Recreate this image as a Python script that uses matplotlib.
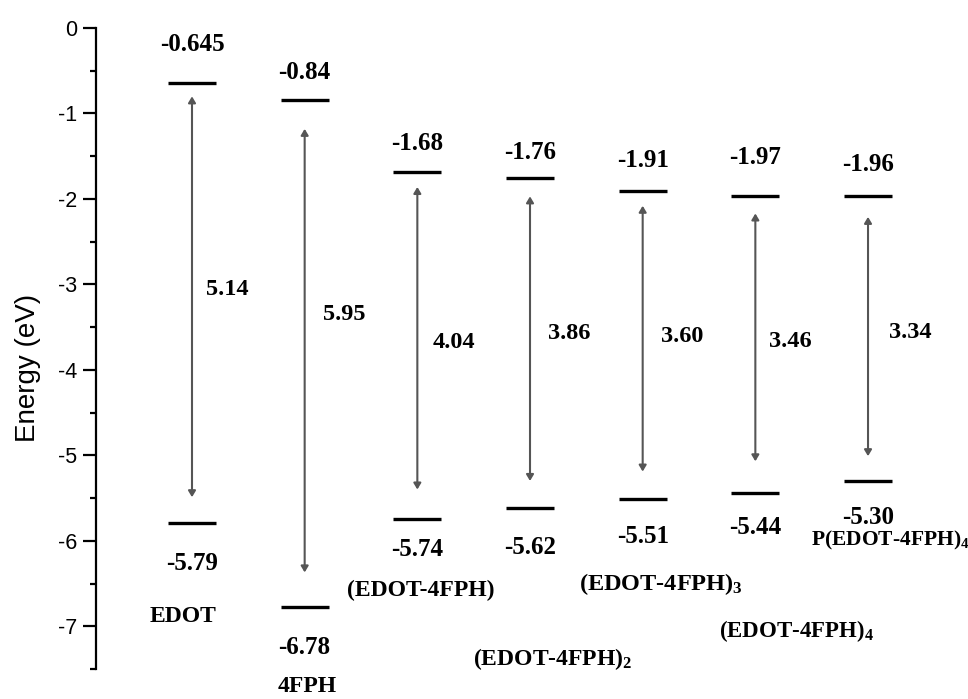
import matplotlib
matplotlib.use("Agg")
import matplotlib.pyplot as plt

# ---- data ----
names = ["EDOT", "4FPH", "(EDOT-4FPH)", "(EDOT-4FPH)$_\\mathbf{2}$",
         "(EDOT-4FPH)$_\\mathbf{3}$", "(EDOT-4FPH)$_\\mathbf{4}$",
         "P(EDOT-4FPH)$_\\mathbf{4}$"]
lumo = [-0.645, -0.84, -1.68, -1.76, -1.91, -1.97, -1.96]
lumo_text = ["-0.645", "-0.84", "-1.68", "-1.76", "-1.91", "-1.97", "-1.96"]
homo = [-5.79, -6.78, -5.74, -5.62, -5.51, -5.44, -5.30]
homo_text = ["-5.79", "-6.78", "-5.74", "-5.62", "-5.51", "-5.44", "-5.30"]
gaps = ["5.14", "5.95", "4.04", "3.86", "3.60", "3.46", "3.34"]
arrow_top = [-0.80, -1.18, -1.86, -1.97, -2.08, -2.17, -2.21]
arrow_bottom = [-5.49, -6.37, -5.40, -5.30, -5.19, -5.07, -5.01]
yticks = [0, -1, -2, -3, -4, -5, -6, -7]

# ---- layout (not data) ----
xpos = list(range(1, len(names) + 1))
top_off = [28, 20, 20, 19, 22, 28, 22]        # points above LUMO line
bot_off = [29, 29, 22, 28, 27, 25, 26]        # points below HOMO line
gap_y = [-3.06, -3.35, -3.68, -3.57, -3.61, -3.67, -3.56]
gap_dx = [0.12, 0.16, 0.14, 0.16, 0.16, 0.12, 0.19]
name_dx = [-0.08, 0.02, 0.03, 0.20, 0.16, 0.36, 0.20]
name_y = [-6.88, -7.71, -6.58, -7.38, -6.51, -7.06, -6.00]
name_fs = [17, 17, 17, 17, 17.5, 16.5, 15.5]

plt.rcParams['mathtext.fontset'] = 'custom'
plt.rcParams['mathtext.rm'] = 'Liberation Serif:bold'
plt.rcParams['mathtext.bf'] = 'Liberation Serif:bold'
plt.rcParams['mathtext.it'] = 'Liberation Serif:bold'

fig = plt.figure(figsize=(9.68, 6.99), dpi=100)
ax = fig.add_axes([96/968, 30/699, (960-96)/968, (669-28)/699])
ax.set_ylim(-7.5, 0)
ax.set_xlim(1 - 96/112.67, 1 + 768/112.67)

for s in ["top", "right", "bottom"]:
    ax.spines[s].set_visible(False)
ax.spines["left"].set_linewidth(1.6)
ax.set_xticks([])
ax.set_yticks(yticks)
ax.set_yticklabels([str(t) for t in yticks], fontfamily="Liberation Sans", fontsize=15.5)
ax.set_yticks([-0.5 - i for i in range(8)], minor=True)
ax.tick_params(axis="y", which="major", length=9.5, width=1.6, direction="out", pad=4)
ax.tick_params(axis="y", which="minor", length=4.5, width=1.6, direction="out")
ax.set_ylabel("Energy (eV)", fontfamily="Liberation Sans", fontsize=20)
ax.yaxis.set_label_coords(-0.064, 0.47)

hw = 24 / 112.67
serif = dict(fontfamily="Liberation Serif", fontweight="bold")
for i, x in enumerate(xpos):
    ax.plot([x - hw, x + hw], [lumo[i], lumo[i]], color="black", lw=2.4, solid_capstyle="butt")
    ax.plot([x - hw, x + hw], [homo[i], homo[i]], color="black", lw=2.4, solid_capstyle="butt")
    ax.annotate("", xy=(x, arrow_top[i]), xytext=(x, arrow_bottom[i]),
                arrowprops=dict(arrowstyle="<|-|>,head_length=0.3,head_width=0.18",
                                color="#555555", lw=1.5, shrinkA=0, shrinkB=0,
                                mutation_scale=12))
    ax.annotate(lumo_text[i], xy=(x, lumo[i]), xytext=(0, top_off[i]),
                textcoords="offset points", ha="center", va="center",
                fontsize=18, **serif)
    ax.annotate(homo_text[i], xy=(x, homo[i]), xytext=(0, -bot_off[i]),
                textcoords="offset points", ha="center", va="center",
                fontsize=18, **serif)
    ax.text(x + gap_dx[i], gap_y[i], gaps[i], ha="left", va="center", fontsize=17.5, **serif)
    ax.text(x + name_dx[i], name_y[i], names[i], ha="center", va="center",
            fontsize=name_fs[i], clip_on=False, **serif)

fig.savefig("out.png", dpi=100)
